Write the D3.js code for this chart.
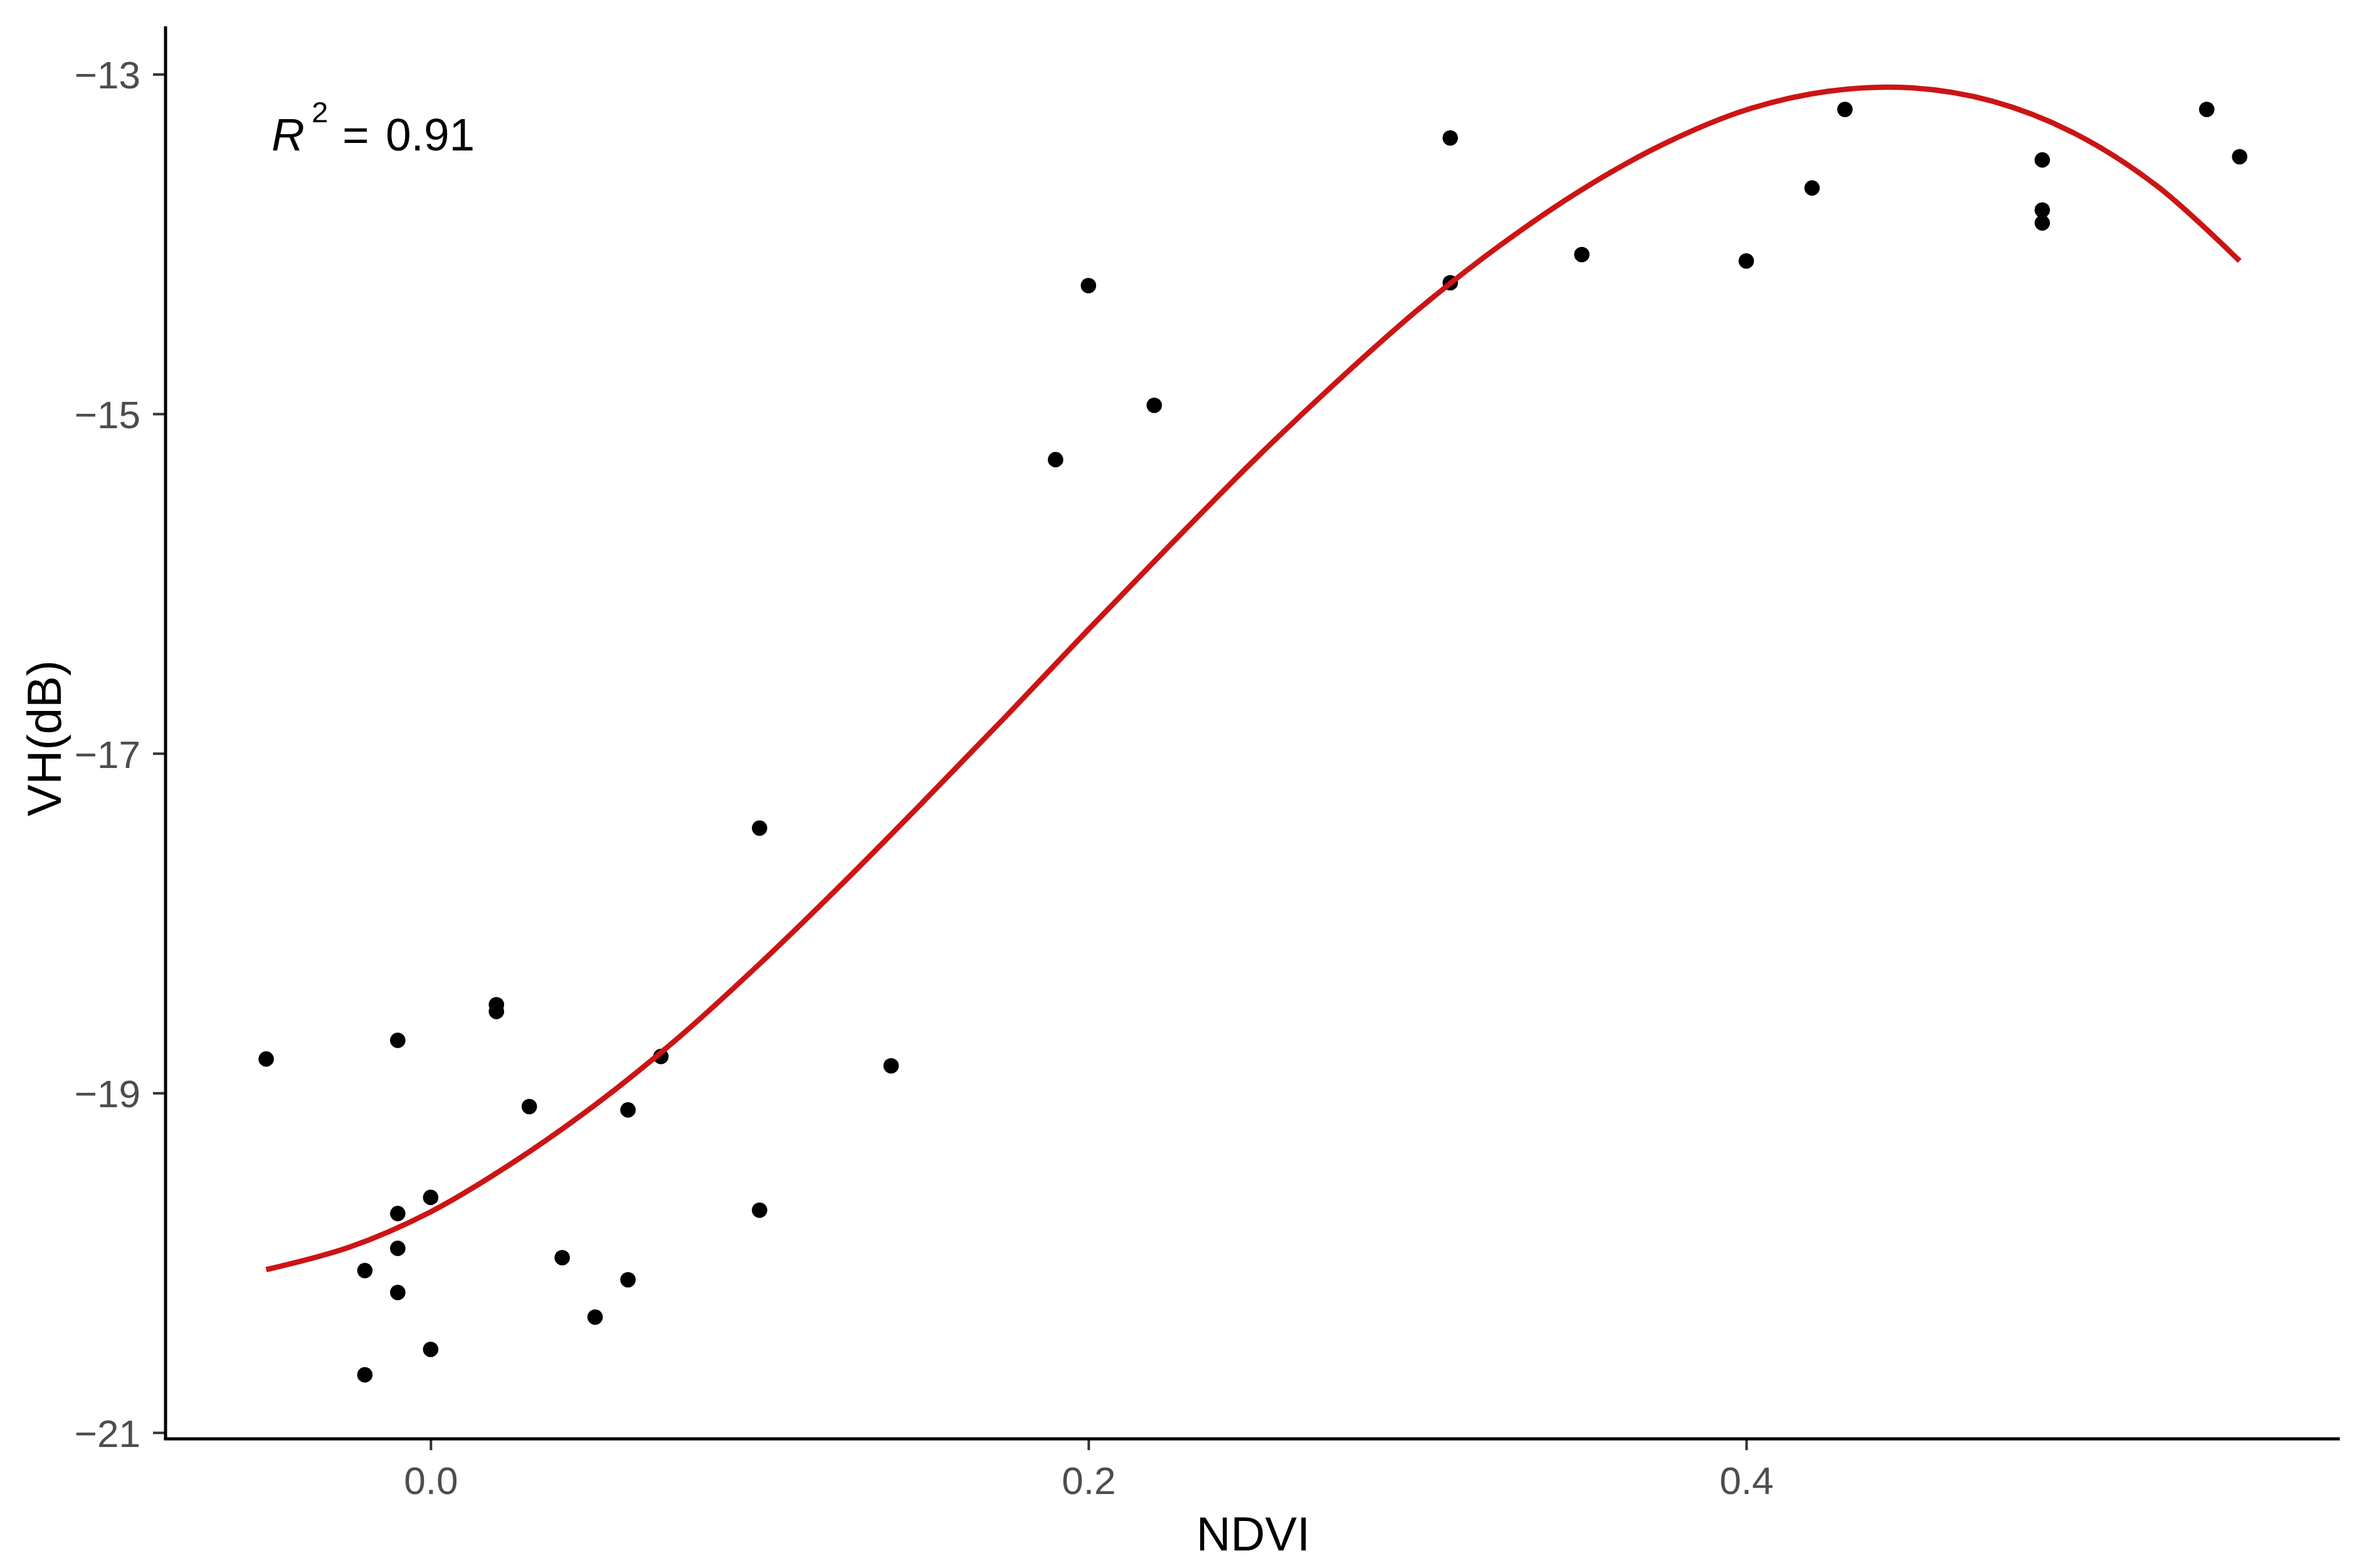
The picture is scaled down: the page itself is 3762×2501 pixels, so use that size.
<!DOCTYPE html>
<html>
<head>
<meta charset="utf-8">
<script src="https://cdn.jsdelivr.net/npm/d3@7"></script>
<style>
  html, body { margin: 0; padding: 0; background: #ffffff; }
  svg { display: block; }
  text { font-family: "Liberation Sans", Arial, "DejaVu Sans", sans-serif; }
</style>
</head>
<body>
<svg id="chart" width="3762" height="2501"></svg>
<script>
// ---------------- data ----------------
const ndvi = [-0.05, -0.01, 0.02, 0.02, 0.03, 0.06, 0.07, 0.10, 0.14, 0.10,
              0.00, -0.01, -0.01, -0.02, -0.01, 0.04, 0.06, 0.05, 0.00, -0.02,
              0.19, 0.20, 0.22, 0.31, 0.31, 0.35, 0.40, 0.42, 0.43, 0.49,
              0.49, 0.49, 0.54, 0.55];
const vh = [-18.80, -18.69, -18.48, -18.52, -19.08, -19.10, -18.785, -17.44, -18.84, -19.69,
            -19.615, -19.71, -19.915, -20.046, -20.175, -19.97, -20.10, -20.32, -20.51, -20.66,
            -15.27, -14.245, -14.95, -13.375, -14.228, -14.062, -14.10, -13.67, -13.207, -13.505,
            -13.80, -13.876, -13.207, -13.486];

// fitted (red) curve, values every 0.025 in NDVI
const fitX = [-0.05, -0.025, 0.0, 0.025, 0.05, 0.075, 0.10, 0.125, 0.15, 0.175,
              0.20, 0.225, 0.25, 0.275, 0.30, 0.325, 0.35, 0.375, 0.40, 0.425,
              0.45, 0.475, 0.50, 0.525, 0.55];
const fitY = [-20.04, -19.91, -19.70, -19.41, -19.07, -18.68, -18.24, -17.77, -17.28, -16.78,
              -16.27, -15.77, -15.28, -14.82, -14.39, -14.01, -13.68, -13.41, -13.21, -13.10,
              -13.08, -13.16, -13.35, -13.66, -14.10];

const xTicks = [0.0, 0.2, 0.4];
const xTickLabels = ["0.0", "0.2", "0.4"];
const yTicks = [-21, -19, -17, -15, -13];
const yTickLabels = ["\u221221", "\u221219", "\u221217", "\u221215", "\u221213"];

const xTitle = "NDVI";
const yTitle = "VH(dB)";
const r2Label = { r: "R", sup: "2", eq: "=", val: "0.91" };

// ---------------- layout ----------------
const panel = { left: 264, right: 3729, top: 42, bottom: 2295 };

const svg = d3.select("#chart");
svg.append("rect").attr("width", 3762).attr("height", 2501).attr("fill", "#ffffff");

const x = d3.scaleLinear().domain([-0.0806, 0.580]).range([panel.left, panel.right]);
const y = d3.scaleLinear().domain([-21.037, -12.718]).range([panel.bottom, panel.top]);

// ---------------- points ----------------
const pts = ndvi.map((v, i) => [v, vh[i]]);
svg.append("g").selectAll("circle")
  .data(pts)
  .join("circle")
  .attr("cx", d => x(d[0]))
  .attr("cy", d => y(d[1]))
  .attr("r", 12.3)
  .attr("fill", "#000000");

// ---------------- fitted curve ----------------
const fitData = fitX.map((v, i) => [v, fitY[i]]);
const line = d3.line()
  .x(d => x(d[0]))
  .y(d => y(d[1]))
  .curve(d3.curveCatmullRom.alpha(0.5));

svg.append("path")
  .datum(fitData)
  .attr("d", line)
  .attr("fill", "none")
  .attr("stroke", "#CC1414")
  .attr("stroke-width", 8.5)
  .attr("stroke-linejoin", "round");

// ---------------- axes ----------------
const tickColor = "#333333";
const labelColor = "#4d4d4d";

const xAxis = d3.axisBottom(x)
  .tickValues(xTicks)
  .tickFormat((d, i) => xTickLabels[i])
  .tickSizeInner(18)
  .tickSizeOuter(0)
  .tickPadding(26);

const gx = svg.append("g")
  .attr("transform", `translate(0,${panel.bottom})`)
  .call(xAxis);
gx.select(".domain").remove();
gx.selectAll(".tick line").attr("stroke", tickColor).attr("stroke-width", 4);
gx.selectAll(".tick text")
  .attr("fill", labelColor)
  .attr("font-size", 62)
  .attr("dy", "0.71em")
  .style("font-family", "'Liberation Sans', Arial, sans-serif");

const yAxis = d3.axisLeft(y)
  .tickValues(yTicks)
  .tickFormat((d, i) => yTickLabels[i])
  .tickSizeInner(20)
  .tickSizeOuter(0)
  .tickPadding(20);

const gy = svg.append("g")
  .attr("transform", `translate(${panel.left},0)`)
  .call(yAxis);
gy.select(".domain").remove();
gy.selectAll(".tick line").attr("stroke", tickColor).attr("stroke-width", 4);
gy.selectAll(".tick text")
  .attr("fill", labelColor)
  .attr("font-size", 62)
  .attr("dy", "0.36em")
  .style("font-family", "'Liberation Sans', Arial, sans-serif");

// axis lines (theme_classic)
svg.append("line")
  .attr("x1", panel.left).attr("x2", panel.right)
  .attr("y1", panel.bottom).attr("y2", panel.bottom)
  .attr("stroke", "#000").attr("stroke-width", 5).attr("stroke-linecap", "square");
svg.append("line")
  .attr("x1", panel.left).attr("x2", panel.left)
  .attr("y1", panel.top).attr("y2", panel.bottom)
  .attr("stroke", "#000").attr("stroke-width", 5).attr("stroke-linecap", "butt");

// ---------------- titles ----------------
svg.append("text")
  .attr("x", (panel.left + panel.right) / 2 + 2)
  .attr("y", 2473)
  .attr("text-anchor", "middle")
  .attr("font-size", 76)
  .attr("fill", "#000")
  .text(xTitle);

svg.append("text")
  .attr("transform", `translate(97,${(panel.top + panel.bottom) / 2 + 9}) rotate(-90)`)
  .attr("text-anchor", "middle")
  .attr("font-size", 76)
  .attr("fill", "#000")
  .text(yTitle);

// ---------------- R² annotation ----------------
const ann = svg.append("text")
  .attr("font-size", 73)
  .attr("fill", "#000");
ann.append("tspan")
  .attr("x", 433).attr("y", 240)
  .attr("font-style", "italic")
  .text(r2Label.r);
ann.append("tspan")
  .attr("x", 497).attr("y", 195)
  .attr("font-size", 47)
  .text(r2Label.sup);
ann.append("tspan")
  .attr("x", 546).attr("y", 240)
  .text(r2Label.eq);
ann.append("tspan")
  .attr("x", 615).attr("y", 240)
  .text(r2Label.val);
</script>
</body>
</html>
